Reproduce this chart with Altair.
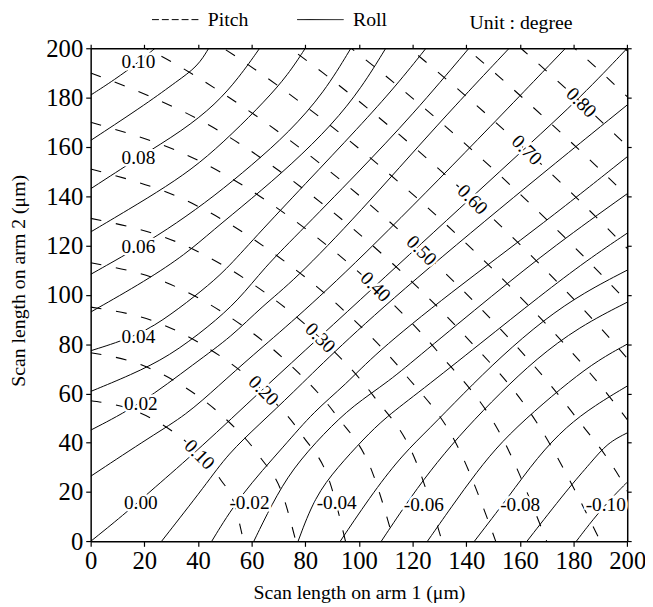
import altair as alt
import pandas as pd

FONT = "Liberation Serif"
TICKS = [0, 20, 40, 60, 80, 100, 120, 140, 160, 180, 200]
X_TITLE = "Scan length on arm 1 (μm)"
Y_TITLE = "Scan length on arm 2 (μm)"
LEGEND_ITEMS = ["Pitch", "Roll"]
UNIT_TEXT = "Unit : degree"

# Roll contours (solid) (x, y)
ROLL_LINES = {
    "0.10": [(0, 181), (9, 187.3), (17.8, 194.3), (24, 200)],
    "0.09": [(0, 162.6), (21.5, 178), (32, 186.5), (39.9, 192.6), (44, 200)],
    "0.08": [(0, 143), (17.8, 155.6), (34.3, 166.6), (46.6, 177.3), (55.2, 188), (63, 200)],
    "0.07": [(0, 125.5), (14, 134.5), (28.2, 143.9), (40.5, 153.2), (52.7, 165.2), (65, 178.6), (73.6, 189.3), (80, 200)],
    "0.06": [(0, 108.3), (18.3, 119.5), (32, 129), (46, 140), (60, 152.5), (74, 166), (87, 182), (97, 200)],
    "0.05": [(0, 93), (20.7, 105.8), (35.4, 116.5), (45.3, 125.9), (60, 139), (75, 153), (90, 169), (101, 184), (110, 200)],
    "0.04": [(0, 77.3), (18, 83.5), (30, 92), (41.6, 101.8), (50.2, 109.8), (61, 123), (80, 145), (100, 168), (114, 185), (125, 200)],
    "0.03": [(0, 60.8), (15, 67.5), (29.3, 75.1), (44, 87.1), (55.1, 97.8), (64.9, 111.2), (75.9, 123.2), (100, 150), (120, 173), (141, 200)],
    "0.02": [(0, 45.1), (18.5, 55.5), (39.1, 72.5), (52.6, 83.1), (63.7, 95.2), (75.9, 105.8), (100, 133), (130, 170), (156, 200)],
    "0.01": [(0, 26.4), (23.2, 43.1), (35.4, 51.1), (47.7, 63.1), (60, 75.1), (75.9, 89.8), (100, 114), (140, 158), (177, 200)],
    "0.00": [(0, 0), (12, 10.5), (23, 21), (40.5, 37.5), (64.4, 62), (85.5, 83), (106, 103.5), (123, 120.5), (142, 139.5), (162.5, 160), (183, 180.5), (200, 200)],
    "-0.01": [(26.4, 0), (43.1, 23.2), (51.1, 35.4), (63.1, 47.7), (75.1, 60), (89.8, 75.9), (114, 100), (158, 140), (200, 177)],
    "-0.02": [(45.1, 0), (55.5, 18.5), (72.5, 39.1), (83.1, 52.6), (95.2, 63.7), (105.8, 75.9), (133, 100), (170, 130), (200, 156)],
    "-0.03": [(60.8, 0), (67.5, 15), (75.1, 29.3), (87.1, 44), (97.8, 55.1), (111.2, 64.9), (123.2, 75.9), (150, 100), (173, 120), (200, 141)],
    "-0.04": [(77.3, 0), (83.5, 18), (92, 30), (101.8, 41.6), (109.8, 50.2), (123, 61), (145, 80), (168, 100), (185, 114), (200, 125)],
    "-0.05": [(93, 0), (105.8, 20.7), (116.5, 35.4), (125.9, 45.3), (139, 60), (153, 75), (169, 90), (184, 101), (200, 110)],
    "-0.06": [(108.3, 0), (119.5, 18.3), (129, 32), (140, 46), (152.5, 60), (166, 74), (182, 87), (200, 97)],
    "-0.07": [(125.5, 0), (134.5, 14), (143.9, 28.2), (153.2, 40.5), (165.2, 52.7), (178.6, 65), (189.3, 73.6), (200, 80)],
    "-0.08": [(143, 0), (155.6, 17.8), (166.6, 34.3), (177.3, 46.6), (188, 55.2), (200, 63)],
    "-0.09": [(162.6, 0), (178, 21.5), (186.5, 32), (192.6, 39.9), (200, 44)],
    "-0.10": [(181, 0), (187.3, 9), (194.3, 17.8), (200, 24)],
}

# Pitch contours (dashed) (x, y)
PITCH_LINES = {
    "0.10": [(0, 57), (14.3, 53.8), (25.7, 48), (38, 38), (48, 25.7), (53.8, 14.3), (57, 0)],
    "0.15": [(0, 76.5), (19.1, 71.5), (34.4, 63), (50, 50), (63, 34.4), (71.5, 19.1), (76.5, 0)],
    "0.20": [(0, 95), (23.8, 89.2), (42.8, 79), (62.7, 62.7), (79, 42.8), (89.2, 23.8), (95, 0)],
    "0.25": [(0, 113), (28.3, 104.9), (50.9, 91.7), (73, 73), (91.7, 50.9), (104.9, 28.3), (113, 0)],
    "0.30": [(0, 131), (32.8, 121.1), (59, 105.4), (84, 84), (105.4, 59), (121.1, 32.8), (131, 0)],
    "0.35": [(0, 151), (37.8, 137.1), (68, 117), (94, 94), (117, 68), (137.1, 37.8), (151, 0)],
    "0.40": [(0, 170), (42.5, 153.2), (76.5, 129.7), (104.6, 104.6), (129.7, 76.5), (153.2, 42.5), (170, 0)],
    "0.45": [(0, 190), (47.5, 166.7), (85.5, 137.7), (112.6, 112.6), (137.7, 85.5), (166.7, 47.5), (190, 0)],
    "0.50": [(0, 209), (20.9, 199.8), (52.3, 179.5), (94.1, 145.7), (120.6, 120.6), (145.7, 94.1), (179.5, 52.3), (199.8, 20.9), (209, 0)],
    "0.55": [(34.2, 210.4), (57, 194.6), (102.6, 157), (130.5, 130.5), (157, 102.6), (194.6, 57), (210.4, 34.2)],
    "0.60": [(61.8, 209.8), (86.5, 190.1), (111.2, 168.5), (140.5, 140.5), (168.5, 111.2), (190.1, 86.5), (209.8, 61.8)],
    "0.65": [(79.8, 214.3), (93.1, 203.4), (119.7, 180), (150.5, 150.5), (180, 119.7), (203.4, 93.1), (214.3, 79.8)],
    "0.70": [(99.8, 216.7), (128.3, 191.4), (142.5, 178.1), (160.5, 160.5), (178.1, 142.5), (191.4, 128.3), (216.7, 99.8)],
    "0.75": [(121.6, 216.8), (136.8, 203), (152, 188.7), (170.5, 170.5), (188.7, 152), (203, 136.8), (216.8, 121.6)],
    "0.80": [(145.4, 214.2), (161.5, 198.9), (180.4, 180.4), (198.9, 161.5), (214.2, 145.4)],
    "0.85": [(171, 209.2), (181.3, 199.1), (190.3, 190.3), (199.1, 181.3), (209.2, 171)],
    "0.90": [(185, 215), (199.5, 199.5), (215, 185)],
}

ROLL_LABELS = ["0.10", "0.08", "0.06", "0.04", "0.02", "0.00", "-0.02", "-0.04", "-0.06", "-0.08", "-0.10"]
ROLL_LABEL_X = [17.8, 17.8, 17.8, 17.8, 18.7, 18.7, 59.2, 91.7, 124.2, 160.1, 192.0]
ROLL_LABEL_Y = [194.3, 155.6, 119.5, 82.8, 55.5, 15.7, 15.4, 15.4, 14.7, 14.7, 14.7]

PITCH_LABELS = ["0.10", "0.20", "0.30", "0.40", "0.50", "0.60", "0.70", "0.80"]
PITCH_LABEL_X = [40.5, 64.4, 85.5, 106.1, 123.3, 142.3, 162.5, 182.8]
PITCH_LABEL_Y = [35.1, 61.1, 82.5, 103.2, 117.9, 138.6, 158.6, 177.9]

# ---------------------------------------------------------------------------
roll_df = pd.DataFrame([{"level": k, "x": x, "y": y} for k, pts in ROLL_LINES.items() for x, y in pts])
pitch_df = pd.DataFrame([{"level": k, "x": x, "y": y} for k, pts in PITCH_LINES.items() for x, y in pts])
roll_lab_df = pd.DataFrame({"t": ROLL_LABELS, "x": ROLL_LABEL_X, "y": ROLL_LABEL_Y})
pitch_lab_df = pd.DataFrame({"t": PITCH_LABELS, "x": PITCH_LABEL_X, "y": PITCH_LABEL_Y})
legend_df = pd.DataFrame({"series": LEGEND_ITEMS})

SC = alt.Scale(domain=[0, 200], nice=False, zero=False)

common_axis = dict(
    values=TICKS, grid=False, domainColor="black", domainWidth=1.5,
    tickColor="black", tickWidth=1.2, labelColor="black",
)

ax_bottom = alt.Axis(
    orient="bottom", title=X_TITLE, tickSize=5, labelFont=FONT, labelFontSize=25,
    labelPadding=2, labelFlush=False, labelOverlap=False,
    titleFont=FONT, titleFontSize=20, titleFontWeight="normal", titleColor="black",
    titleY=58, titleBaseline="alphabetic", **common_axis)
ax_left = alt.Axis(
    orient="left", title=Y_TITLE, tickSize=5, labelFont=FONT, labelFontSize=25,
    labelPadding=3, labelFlush=False, labelOverlap=False,
    titleFont=FONT, titleFontSize=20, titleFontWeight="normal", titleColor="black",
    titleX=-73, titleY=235, titleAlign="center", titleBaseline="middle", **common_axis)
ax_top = alt.Axis(orient="top", title=None, labels=False, tickSize=4, **common_axis)
ax_right = alt.Axis(orient="right", title=None, labels=False, tickSize=4, **common_axis)

roll = alt.Chart(roll_df).mark_line(
    color="black", strokeWidth=1, interpolate="basis", clip=True
).encode(
    x=alt.X("x:Q", scale=SC, axis=ax_bottom),
    y=alt.Y("y:Q", scale=SC, axis=ax_left),
    detail="level:N",
)

pitch = alt.Chart(pitch_df).mark_line(
    color="black", strokeWidth=1.1, interpolate="monotone", clip=True, strokeDash=[11, 15]
).encode(
    x=alt.X("x:Q", scale=SC, axis=ax_top),
    y=alt.Y("y:Q", scale=SC, axis=ax_right),
    detail="level:N",
)

def labels(df, angle, halo):
    kw = dict(font=FONT, fontSize=19.5, align="center", baseline="middle", angle=angle)
    if halo:
        mk = alt.Chart(df).mark_text(fill="white", stroke="white", strokeWidth=5, **kw)
    else:
        mk = alt.Chart(df).mark_text(color="black", **kw)
    return mk.encode(
        x=alt.X("x:Q", scale=SC, axis=None),
        y=alt.Y("y:Q", scale=SC, axis=None),
        text="t:N",
    )

legend_layer = alt.Chart(legend_df).mark_line(color="black", strokeWidth=1).encode(
    x=alt.XDatum(0, axis=None),
    y=alt.YDatum(0, axis=None),
    strokeDash=alt.StrokeDash(
        "series:N",
        scale=alt.Scale(domain=LEGEND_ITEMS, range=[[7, 3], [1, 0]]),
        legend=alt.Legend(
            orient="none", legendX=61.6, legendY=-53, direction="horizontal",
            title=UNIT_TEXT, titleOrient="right", titlePadding=84,
            titleFont=FONT, titleFontSize=20, titleFontWeight="normal",
            titleColor="black", titleBaseline="top",
            symbolType="stroke", symbolSize=2209, symbolStrokeWidth=1,
            symbolStrokeColor="black", labelFont=FONT, labelFontSize=20,
            labelColor="black", labelOffset=9, columnPadding=46, padding=0,
        ),
    ),
)

chart = alt.layer(
    roll, pitch,
    labels(roll_lab_df, 0, True), labels(pitch_lab_df, 45, True),
    labels(roll_lab_df, 0, False), labels(pitch_lab_df, 45, False),
    legend_layer,
).resolve_axis(x="independent", y="independent").properties(
    width=543.3, height=499.3,
    autosize=alt.AutoSizeParams(type="none"),
    padding={"left": 83.7, "top": 37, "right": 18, "bottom": 63},
).configure_view(stroke=None)

chart.save("out.html", embed_options={"renderer": "svg", "actions": False})
